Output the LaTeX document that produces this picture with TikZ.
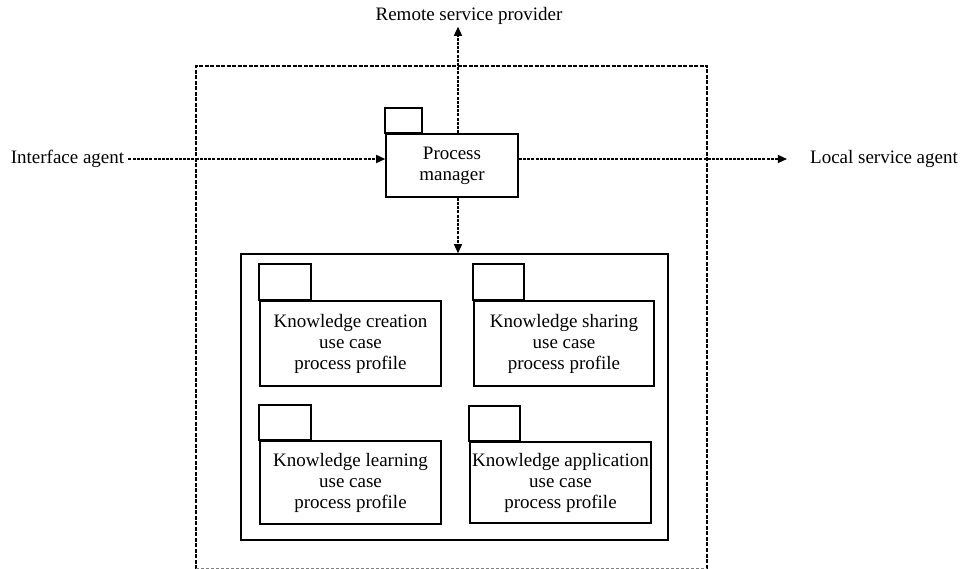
\documentclass[tikz,border=0pt]{standalone}
\usepackage{fontspec}
\setmainfont{Liberation Serif}
\usepackage{tikz}
\usetikzlibrary{arrows.meta,positioning}

\begin{document}
\begin{tikzpicture}[x=1pt,y=-1pt,>={Triangle[length=9pt,width=8pt]},
                    font=\fontsize{19}{21}\selectfont,
                    box/.style={draw,line width=1.6pt,align=center,inner sep=0pt},
                    link/.style={line width=1.5pt,dash pattern=on 3pt off 1.2pt},
                    frame/.style={line width=2.2pt,dash pattern=on 4pt off 1.5pt}]

  \useasboundingbox (0,0) rectangle (962,569);

  % boundary of the agent
  \draw[frame] (196,569) |- (707,66) -- (707,569);
  \draw[gray,densely dashed,thin] (196,568) -- (707,568);

  \node[box,minimum width=132pt,minimum height=63pt] (pm) at (452,165.5) {Process\\manager};
  \draw[line width=1.6pt] (pm.north west) rectangle ++(37,-25);

  \node (ia)  at (67.5,159) [inner sep=4pt] {Interface agent};
  \node (lsa) at (884,159)  [inner sep=4pt] {Local service agent};
  \node (rsp) at (469,16)   [inner sep=2pt] {Remote service provider};

  % use case profiles
  \node[box,minimum width=427pt,minimum height=286pt] (ucp) at (454.5,397) {};

  \node[box,minimum width=181pt,minimum height=85pt] (kc) at (350.5,343.5) {Knowledge creation\\use case\\process profile};
  \node[box,minimum width=180pt,minimum height=85pt] (ks) at (564,343.5)   {Knowledge sharing\\use case\\process profile};
  \node[box,minimum width=181pt,minimum height=83pt] (kl) at (350.5,482.5) {Knowledge learning\\use case\\process profile};
  \node[box,minimum width=181pt,minimum height=81pt] (ka) at (560.5,482.5) {Knowledge application\\use case\\process profile};

  \draw[line width=1.6pt] (kc.north west) rectangle ++(52,-36);
  \draw[line width=1.6pt] (ks.north west) rectangle ++(51,-36);
  \draw[line width=1.6pt] (kl.north west) rectangle ++(52,-35);
  \draw[line width=1.6pt] (ka.north west) rectangle ++(51,-35);

  \draw[link,->] (ia) -- (ia -| pm.west);
  \draw[link,->,shorten >=19pt] (lsa -| pm.east) -- (lsa);
  \draw[link,->] ([xshift=6pt]pm.north) -- ([xshift=6pt]pm.north |- rsp.south);
  \draw[link,->] ([xshift=6pt]pm.south) -- ([xshift=6pt]pm.south |- ucp.north);
\end{tikzpicture}
\end{document}
